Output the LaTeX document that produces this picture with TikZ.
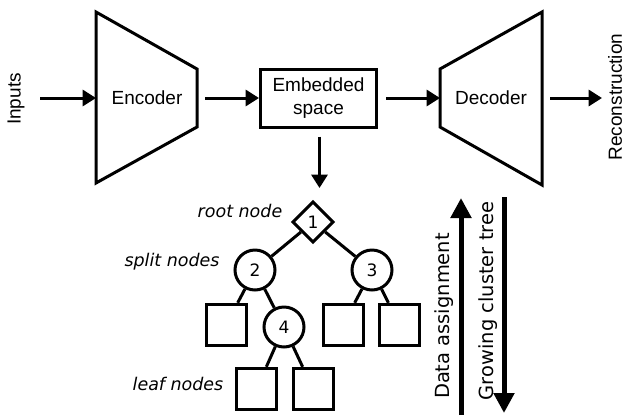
\documentclass[tikz,border=0pt]{standalone}
\usepackage{fontspec}
\setmainfont{Liberation Sans}
\newfontfamily\dejavu{DejaVu Sans}
\usepackage{tikz}
\usetikzlibrary{arrows.meta,shapes.geometric,positioning}

\begin{document}
\begin{tikzpicture}[x=0.75pt,y=-0.75pt,
  block/.style={draw=black,line width=2.25pt,line join=miter},
  arr/.style={line width=2.25pt,-{Triangle[length=10pt,width=12pt]}},
  bigarr/.style={line width=3.75pt,-{Triangle[length=15pt,width=15pt]}},
  lbl/.style={font=\fontsize{14.25}{17}\selectfont},
  tlbl/.style={font=\dejavu\itshape\fontsize{13.1}{15}\selectfont},
  vlbl/.style={rotate=90,font=\dejavu\fontsize{14.6}{17}\selectfont},
  root/.style={diamond,draw=black,line width=2.25pt,inner sep=0pt,minimum size=31pt,font=\dejavu\fontsize{12.8}{14}\selectfont},
  split/.style={circle,draw=black,line width=2.25pt,inner sep=0pt,minimum size=30pt,font=\dejavu\fontsize{12.8}{14}\selectfont},
  leaf/.style={rectangle,draw=black,line width=2.25pt,inner sep=0pt,minimum width=30pt,minimum height=31pt}]
\useasboundingbox (0,0) rectangle (625,419);

\node[lbl,rotate=90] (inputs) at (16,99) {Inputs};
\coordinate (inS) at (40,98);

\draw[block] (96,12) -- (197,69) -- (197,127) -- (96,183) -- cycle;
\node[lbl] (enc) at (147,98) {Encoder};
\coordinate (encL) at (96,98);
\coordinate (encR) at (197,98);

\node[block,lbl,align=center,minimum width=87pt,minimum height=43.5pt] (emb) at (318.5,98) {Embedded\\space};

\draw[block] (440,69) -- (542,12) -- (542,185) -- (440,127) -- cycle;
\node[lbl] (dec) at (491,98) {Decoder};
\coordinate (decL) at (440,98);
\coordinate (decR) at (542,98);

\node[lbl,rotate=90] (rec) at (615,97) {Reconstruction};
\coordinate (recE) at (602,98);

\draw[arr] (inS) -- (encL);
\draw[arr,shorten <=6pt] (encR) -- (emb.west);
\draw[arr,shorten <=6pt] (emb.east) -- (decL);
\draw[arr,shorten <=6pt] (decR) -- (recE);

\coordinate (treeTop) at (319.5,188);
\draw[arr,shorten <=6pt] (emb.south -| treeTop) -- (treeTop);

\node[root] (n1) at (313,222) {1};
\node[split] (n2) at (255,270) {2};
\node[split] (n3) at (372,270) {3};
\node[split] (n4) at (284,327) {4};
\node[leaf] (la) at (226,325) {};
\node[leaf] (lb) at (343,325) {};
\node[leaf] (lc) at (399.5,325) {};
\node[leaf] (ld) at (256.5,389) {};
\node[leaf] (le) at (313,389) {};
\draw[line width=2.25pt] (n1)--(n2);
\draw[line width=2.25pt] (n1)--(n3);
\draw[line width=2.25pt] (n2)--(la);
\draw[line width=2.25pt] (n2)--(n4);
\draw[line width=2.25pt] (n3)--(lb);
\draw[line width=2.25pt] (n3)--(lc);
\draw[line width=2.25pt] (n4)--(ld);
\draw[line width=2.25pt] (n4)--(le);

\node[tlbl] (rootlbl) at (240,211) {root node};
\node[tlbl] (splitlbl) at (172,262) {split nodes};
\node[tlbl] (leaflbl) at (178,384) {leaf nodes};

\coordinate (upS) at (461,415);
\coordinate (upE) at (461,198);
\coordinate (dnS) at (504,197);
\coordinate (dnE) at (504,413);
\draw[bigarr] (upS) -- (upE);
\draw[bigarr] (dnS) -- (dnE);
\node[vlbl] (assign) at (444,316) {Data assignment};
\node[vlbl] (grow) at (488,301) {Growing cluster tree};
\end{tikzpicture}
\end{document}
